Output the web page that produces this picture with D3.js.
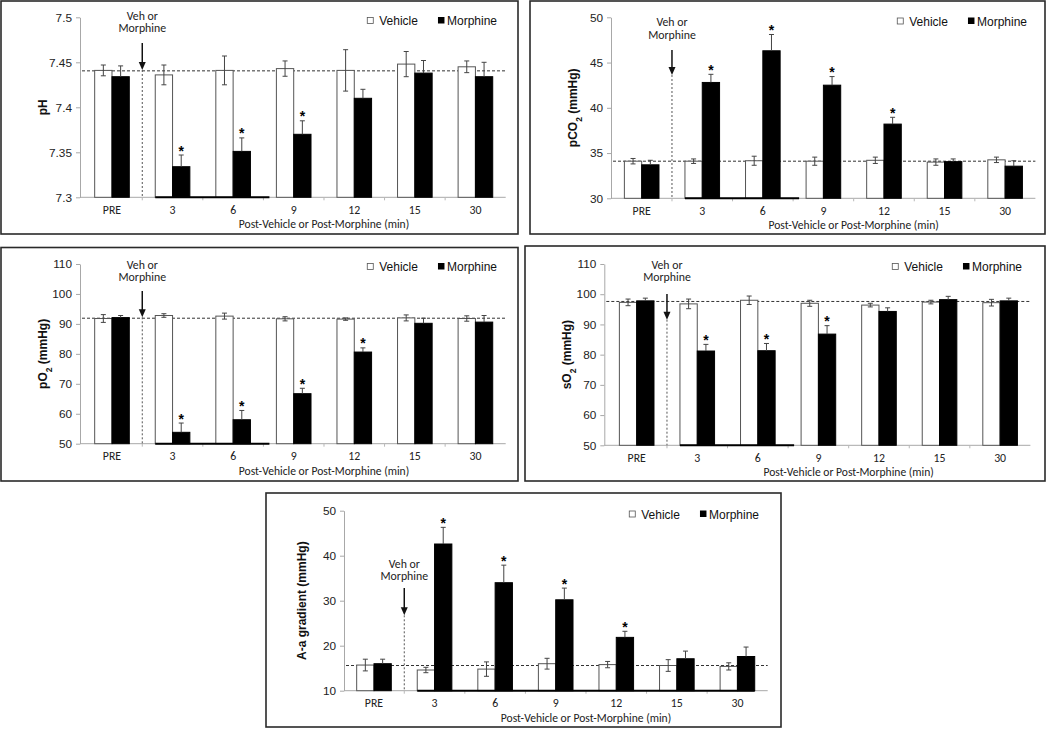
<!DOCTYPE html>
<html>
<head>
<meta charset="utf-8">
<script src="https://cdn.jsdelivr.net/npm/d3@7"></script>
<style>
  body { margin: 0; background: #fff; }
  .tick text { fill: #222; }
</style>
</head>
<body>
<script>
// time points
var categories = ["PRE", "3", "6", "9", "12", "15", "30"];

// pH
var phVeh    = [7.441, 7.436, 7.441, 7.443, 7.441, 7.448, 7.445];
var phVehErr = [0.006, 0.011, 0.016, 0.0085, 0.023, 0.014, 0.0065];
var phMor    = [7.434, 7.334, 7.351, 7.370, 7.410, 7.438, 7.434];
var phMorErr = [0.012, 0.013, 0.015, 0.015, 0.010, 0.014, 0.016];
var phSig    = [0, 1, 1, 1, 0, 0, 0];

// pCO2
var pco2Veh    = [34.1, 34.1, 34.15, 34.1, 34.2, 34.0, 34.25];
var pco2VehErr = [0.3, 0.25, 0.5, 0.45, 0.35, 0.35, 0.3];
var pco2Mor    = [33.7, 42.8, 46.3, 42.5, 38.2, 34.05, 33.55];
var pco2MorErr = [0.5, 0.9, 1.8, 0.95, 0.75, 0.3, 0.6];
var pco2Sig    = [0, 1, 1, 1, 1, 0, 0];

// pO2
var po2Veh    = [91.8, 92.8, 92.6, 91.7, 91.6, 92.0, 91.8];
var po2VehErr = [1.3, 0.6, 1.0, 0.7, 0.4, 1.0, 0.9];
var po2Mor    = [92.1, 53.8, 58.0, 66.7, 80.6, 90.2, 90.6];
var po2MorErr = [0.7, 3.1, 3.1, 1.8, 1.4, 1.7, 2.2];
var po2Sig    = [0, 1, 1, 1, 1, 0, 0];

// sO2
var so2Veh    = [97.3, 96.8, 98.0, 97.0, 96.4, 97.4, 97.2];
var so2VehErr = [1.1, 1.6, 1.4, 1.0, 0.6, 0.6, 1.1];
var so2Mor    = [97.8, 81.2, 81.3, 86.8, 94.3, 98.2, 97.8];
var so2MorErr = [0.9, 2.2, 2.4, 2.8, 1.2, 1.1, 0.9];
var so2Sig    = [0, 1, 1, 1, 0, 0, 0];

// A-a gradient
var aaVeh    = [15.7, 14.6, 14.8, 16.0, 15.8, 15.6, 15.4];
var aaVehErr = [1.3, 0.6, 1.6, 1.2, 0.7, 1.3, 0.8];
var aaMor    = [16.0, 42.6, 34.0, 30.2, 21.85, 17.1, 17.6];
var aaMorErr = [1.0, 3.7, 3.9, 2.6, 1.35, 1.7, 2.1];
var aaSig    = [0, 1, 1, 1, 1, 0, 0];

// dashed baseline level of each panel
var refLevels = [7.4405, 34.1, 91.9, 97.6, 15.6];

var yTicks = [
  [7.3, 7.35, 7.4, 7.45, 7.5],
  [30, 35, 40, 45, 50],
  [50, 60, 70, 80, 90, 100, 110],
  [50, 60, 70, 80, 90, 100, 110],
  [10, 20, 30, 40, 50]
];

var xTitle = "Post-Vehicle or Post-Morphine (min)";

var arial = "'Liberation Sans', Arial, sans-serif";
var calibri = "Carlito, Lato, sans-serif";

var panels = [
  { name: ["pH", "", ""], veh: phVeh, vehErr: phVehErr, mor: phMor, morErr: phMorErr, sig: phSig,
    domain: [7.3, 7.5], fmt: d3.format(""),
    box: [1, 1, 517, 233], axisX: 80, bandX: 81.7, yTop: 17.3, yBot: 197.3, titleX: 43,
    noteY: [19.5, 32], arrowY: [43, 70], legendY: 25, legendEnd: 497, thickEnd: "9" },
  { name: ["pCO", "2", " (mmHg)"], veh: pco2Veh, vehErr: pco2VehErr, mor: pco2Mor, morErr: pco2MorErr, sig: pco2Sig,
    domain: [30, 50], fmt: d3.format("d"),
    box: [530, 1, 515, 233], axisX: 611, bandX: 611.4, yTop: 17.3, yBot: 198.3, titleX: 573,
    noteY: [25.5, 38.5], arrowY: [50, 75], legendY: 25.5, legendEnd: 1027, thickEnd: "9" },
  { name: ["pO", "2", " (mmHg)"], veh: po2Veh, vehErr: po2VehErr, mor: po2Mor, morErr: po2MorErr, sig: po2Sig,
    domain: [50, 110], fmt: d3.format("d"),
    box: [1, 247.5, 517, 233.5], axisX: 80, bandX: 81.7, yTop: 264, yBot: 443.7, titleX: 43,
    noteY: [269, 281], arrowY: [291, 317.3], legendY: 271, legendEnd: 497, thickEnd: "9" },
  { name: ["sO", "2", " (mmHg)"], veh: so2Veh, vehErr: so2VehErr, mor: so2Mor, morErr: so2MorErr, sig: so2Sig,
    domain: [50, 110], fmt: d3.format("d"),
    box: [525, 246, 520, 235], axisX: 604.3, bandX: 606.4, yTop: 264, yBot: 445.3, titleX: 566.7,
    noteY: [269, 281], arrowY: [294, 319.7], legendY: 271, legendEnd: 1022, thickEnd: "9" },
  { name: ["A-a gradient (mmHg)", "", ""], veh: aaVeh, vehErr: aaVehErr, mor: aaMor, morErr: aaMorErr, sig: aaSig,
    domain: [10, 50], fmt: d3.format("d"),
    box: [266, 493, 515, 234], axisX: 344, bandX: 343.7, yTop: 510.7, yBot: 690.7, titleX: 301.3,
    noteY: [567.5, 580], arrowY: [588, 615.3], legendY: 518.5, legendEnd: 759, thickEnd: "end" }
];

var svg = d3.select("body").append("svg")
    .attr("width", 1050)
    .attr("height", 729);

panels.forEach(function(p, k) { drawPanel(p, refLevels[k], yTicks[k]); });

function drawPanel(p, ref, ticks) {
  var g = svg.append("g");

  g.append("rect")
      .attr("x", p.box[0]).attr("y", p.box[1])
      .attr("width", p.box[2]).attr("height", p.box[3])
      .attr("fill", "none")
      .attr("stroke", "#2a2a2a")
      .attr("stroke-width", 1.6);

  var x0 = d3.scaleBand()
      .domain(categories)
      .range([p.bandX, p.bandX + 424]);

  var x1 = d3.scaleBand()
      .domain(["veh", "mor"])
      .range([0, x0.bandwidth()])
      .paddingOuter(0.75);

  var y = d3.scaleLinear()
      .domain(p.domain)
      .range([p.yBot, p.yTop]);

  var xEnd = x0.range()[1];

  // y axis
  var yAxis = d3.axisLeft(y)
      .tickValues(ticks)
      .tickSize(4)
      .tickSizeOuter(0)
      .tickPadding(4)
      .tickFormat(p.fmt);

  var ya = g.append("g")
      .attr("transform", "translate(" + p.axisX + ",0)")
      .call(yAxis);
  ya.select(".domain").attr("stroke", "#a8a8a8");
  ya.selectAll(".tick line").attr("stroke", "#a8a8a8");
  ya.selectAll(".tick text")
      .style("font-family", arial)
      .style("font-size", "11.8px");

  // x axis line + labels
  g.append("line")
      .attr("x1", p.axisX).attr("x2", xEnd)
      .attr("y1", p.yBot).attr("y2", p.yBot)
      .attr("stroke", "#a8a8a8");

  var xAxis = d3.axisBottom(x0).tickSize(0).tickPadding(8);
  var xa = g.append("g")
      .attr("transform", "translate(0," + p.yBot + ")")
      .call(xAxis);
  xa.select(".domain").remove();
  xa.selectAll(".tick text")
      .style("font-family", calibri)
      .style("font-size", "11.8px");

  // boundary ticks
  g.selectAll(".btick")
      .data(categories.slice(1))
    .enter().append("line")
      .attr("x1", function(d) { return x0(d); })
      .attr("x2", function(d) { return x0(d); })
      .attr("y1", p.yBot).attr("y2", p.yBot + 3)
      .attr("stroke", "#b8b8b8");

  var rows = categories.map(function(c, i) {
    return { cat: c, veh: p.veh[i], vehErr: p.vehErr[i], mor: p.mor[i], morErr: p.morErr[i], sig: p.sig[i] };
  });

  // reference dashed line
  g.append("line")
      .attr("x1", p.axisX + 2).attr("x2", xEnd)
      .attr("y1", y(ref)).attr("y2", y(ref))
      .attr("stroke", "#333")
      .attr("stroke-dasharray", "3,2");

  // vehicle bars
  g.selectAll(".veh")
      .data(rows)
    .enter().append("rect")
      .attr("x", function(d) { return x0(d.cat) + x1("veh"); })
      .attr("y", function(d) { return y(d.veh); })
      .attr("width", x1.bandwidth())
      .attr("height", function(d) { return p.yBot - y(d.veh); })
      .attr("fill", "#fff")
      .attr("stroke", "#555")
      .attr("stroke-width", 1);

  // morphine bars
  g.selectAll(".mor")
      .data(rows)
    .enter().append("rect")
      .attr("x", function(d) { return x0(d.cat) + x1("mor"); })
      .attr("y", function(d) { return y(d.mor); })
      .attr("width", x1.bandwidth())
      .attr("height", function(d) { return p.yBot - y(d.mor); })
      .attr("fill", "#000")
      .attr("stroke", "#000")
      .attr("stroke-width", 1);

  // error bars (morphine: only the upper half shows above the black bar)
  ["veh", "mor"].forEach(function(s) {
    rows.forEach(function(d) {
      var cx = x0(d.cat) + x1(s) + x1.bandwidth() / 2;
      var v = d[s], e = d[s + "Err"];
      var lo = s == "veh" ? v - e : v;
      var eb = g.append("g").attr("stroke", "#444").attr("stroke-width", 1);
      eb.append("line").attr("x1", cx).attr("x2", cx).attr("y1", y(lo)).attr("y2", y(v + e));
      eb.append("line").attr("x1", cx - 2.5).attr("x2", cx + 2.5).attr("y1", y(v + e)).attr("y2", y(v + e));
      if (s == "veh") {
        eb.append("line").attr("x1", cx - 2.5).attr("x2", cx + 2.5).attr("y1", y(lo)).attr("y2", y(lo));
      }
    });
  });

  // significance stars
  g.selectAll(".star")
      .data(rows.filter(function(d) { return d.sig; }))
    .enter().append("text")
      .attr("x", function(d) { return x0(d.cat) + x1("mor") + x1.bandwidth() / 2; })
      .attr("y", function(d) { return y(d.mor + d.morErr) + 0.5; })
      .attr("text-anchor", "middle")
      .style("font-family", arial)
      .style("font-weight", "bold")
      .style("font-size", "14px")
      .text("*");

  // thick baseline under post-treatment bars
  var tEnd = p.thickEnd == "end" ? x0("30") + x1("mor") + x1.bandwidth() : x0(p.thickEnd) + 6;
  g.append("line")
      .attr("x1", x0("3") + x1("veh")).attr("x2", tEnd)
      .attr("y1", p.yBot).attr("y2", p.yBot)
      .attr("stroke", "#000")
      .attr("stroke-width", 2);

  // treatment marker
  var mx = x0("3");
  g.append("line")
      .attr("x1", mx).attr("x2", mx)
      .attr("y1", p.arrowY[1]).attr("y2", p.yBot)
      .attr("stroke", "#555")
      .attr("stroke-dasharray", "2,2");
  g.append("line")
      .attr("x1", mx).attr("x2", mx)
      .attr("y1", p.arrowY[0]).attr("y2", p.arrowY[1] - 5)
      .attr("stroke", "#111")
      .attr("stroke-width", 1.5);
  g.append("path")
      .attr("d", "M" + (mx - 3.5) + "," + (p.arrowY[1] - 8) + "L" + (mx + 3.5) + "," + (p.arrowY[1] - 8) + "L" + mx + "," + p.arrowY[1] + "Z")
      .attr("fill", "#111");

  g.selectAll(".note")
      .data(["Veh or", "Morphine"])
    .enter().append("text")
      .attr("x", mx)
      .attr("y", function(d, i) { return p.noteY[i]; })
      .attr("text-anchor", "middle")
      .attr("fill", "#222")
      .style("font-family", calibri)
      .style("font-size", "11.8px")
      .text(function(d) { return d; });

  // y title
  var yt = g.append("text")
      .attr("transform", "translate(" + p.titleX + "," + (p.yTop + p.yBot) / 2 + ") rotate(-90)")
      .attr("text-anchor", "middle")
      .attr("dy", "0.35em")
      .attr("fill", "#111")
      .style("font-family", arial)
      .style("font-weight", "bold")
      .style("font-size", "12px");
  yt.append("tspan").text(p.name[0]);
  if (p.name[1]) {
    yt.append("tspan").attr("baseline-shift", "sub").style("font-size", "8.5px").text(p.name[1]);
    yt.append("tspan").text(p.name[2]);
  }

  // x title
  g.append("text")
      .attr("x", (x0("3") + x0("30") + x0.bandwidth()) / 2)
      .attr("y", p.yBot + 31)
      .attr("text-anchor", "middle")
      .attr("fill", "#222")
      .style("font-family", calibri)
      .style("font-size", "11.6px")
      .text(xTitle);

  // legend
  var lm = g.append("text")
      .attr("x", p.legendEnd).attr("y", p.legendY)
      .attr("text-anchor", "end")
      .attr("fill", "#111")
      .style("font-family", arial)
      .style("font-size", "12px")
      .text("Morphine");
  var mStart = p.legendEnd - lm.node().getComputedTextLength();
  g.append("rect")
      .attr("x", mStart - 9).attr("y", p.legendY - 8)
      .attr("width", 6.5).attr("height", 6.5)
      .attr("fill", "#000");
  var lv = g.append("text")
      .attr("x", mStart - 29).attr("y", p.legendY)
      .attr("text-anchor", "end")
      .attr("fill", "#111")
      .style("font-family", arial)
      .style("font-size", "12px")
      .text("Vehicle");
  var vStart = mStart - 29 - lv.node().getComputedTextLength();
  g.append("rect")
      .attr("x", vStart - 12).attr("y", p.legendY - 7.5)
      .attr("width", 6).attr("height", 6)
      .attr("fill", "#fff")
      .attr("stroke", "#555")
      .attr("stroke-width", 0.8);
}
</script>
</body>
</html>
